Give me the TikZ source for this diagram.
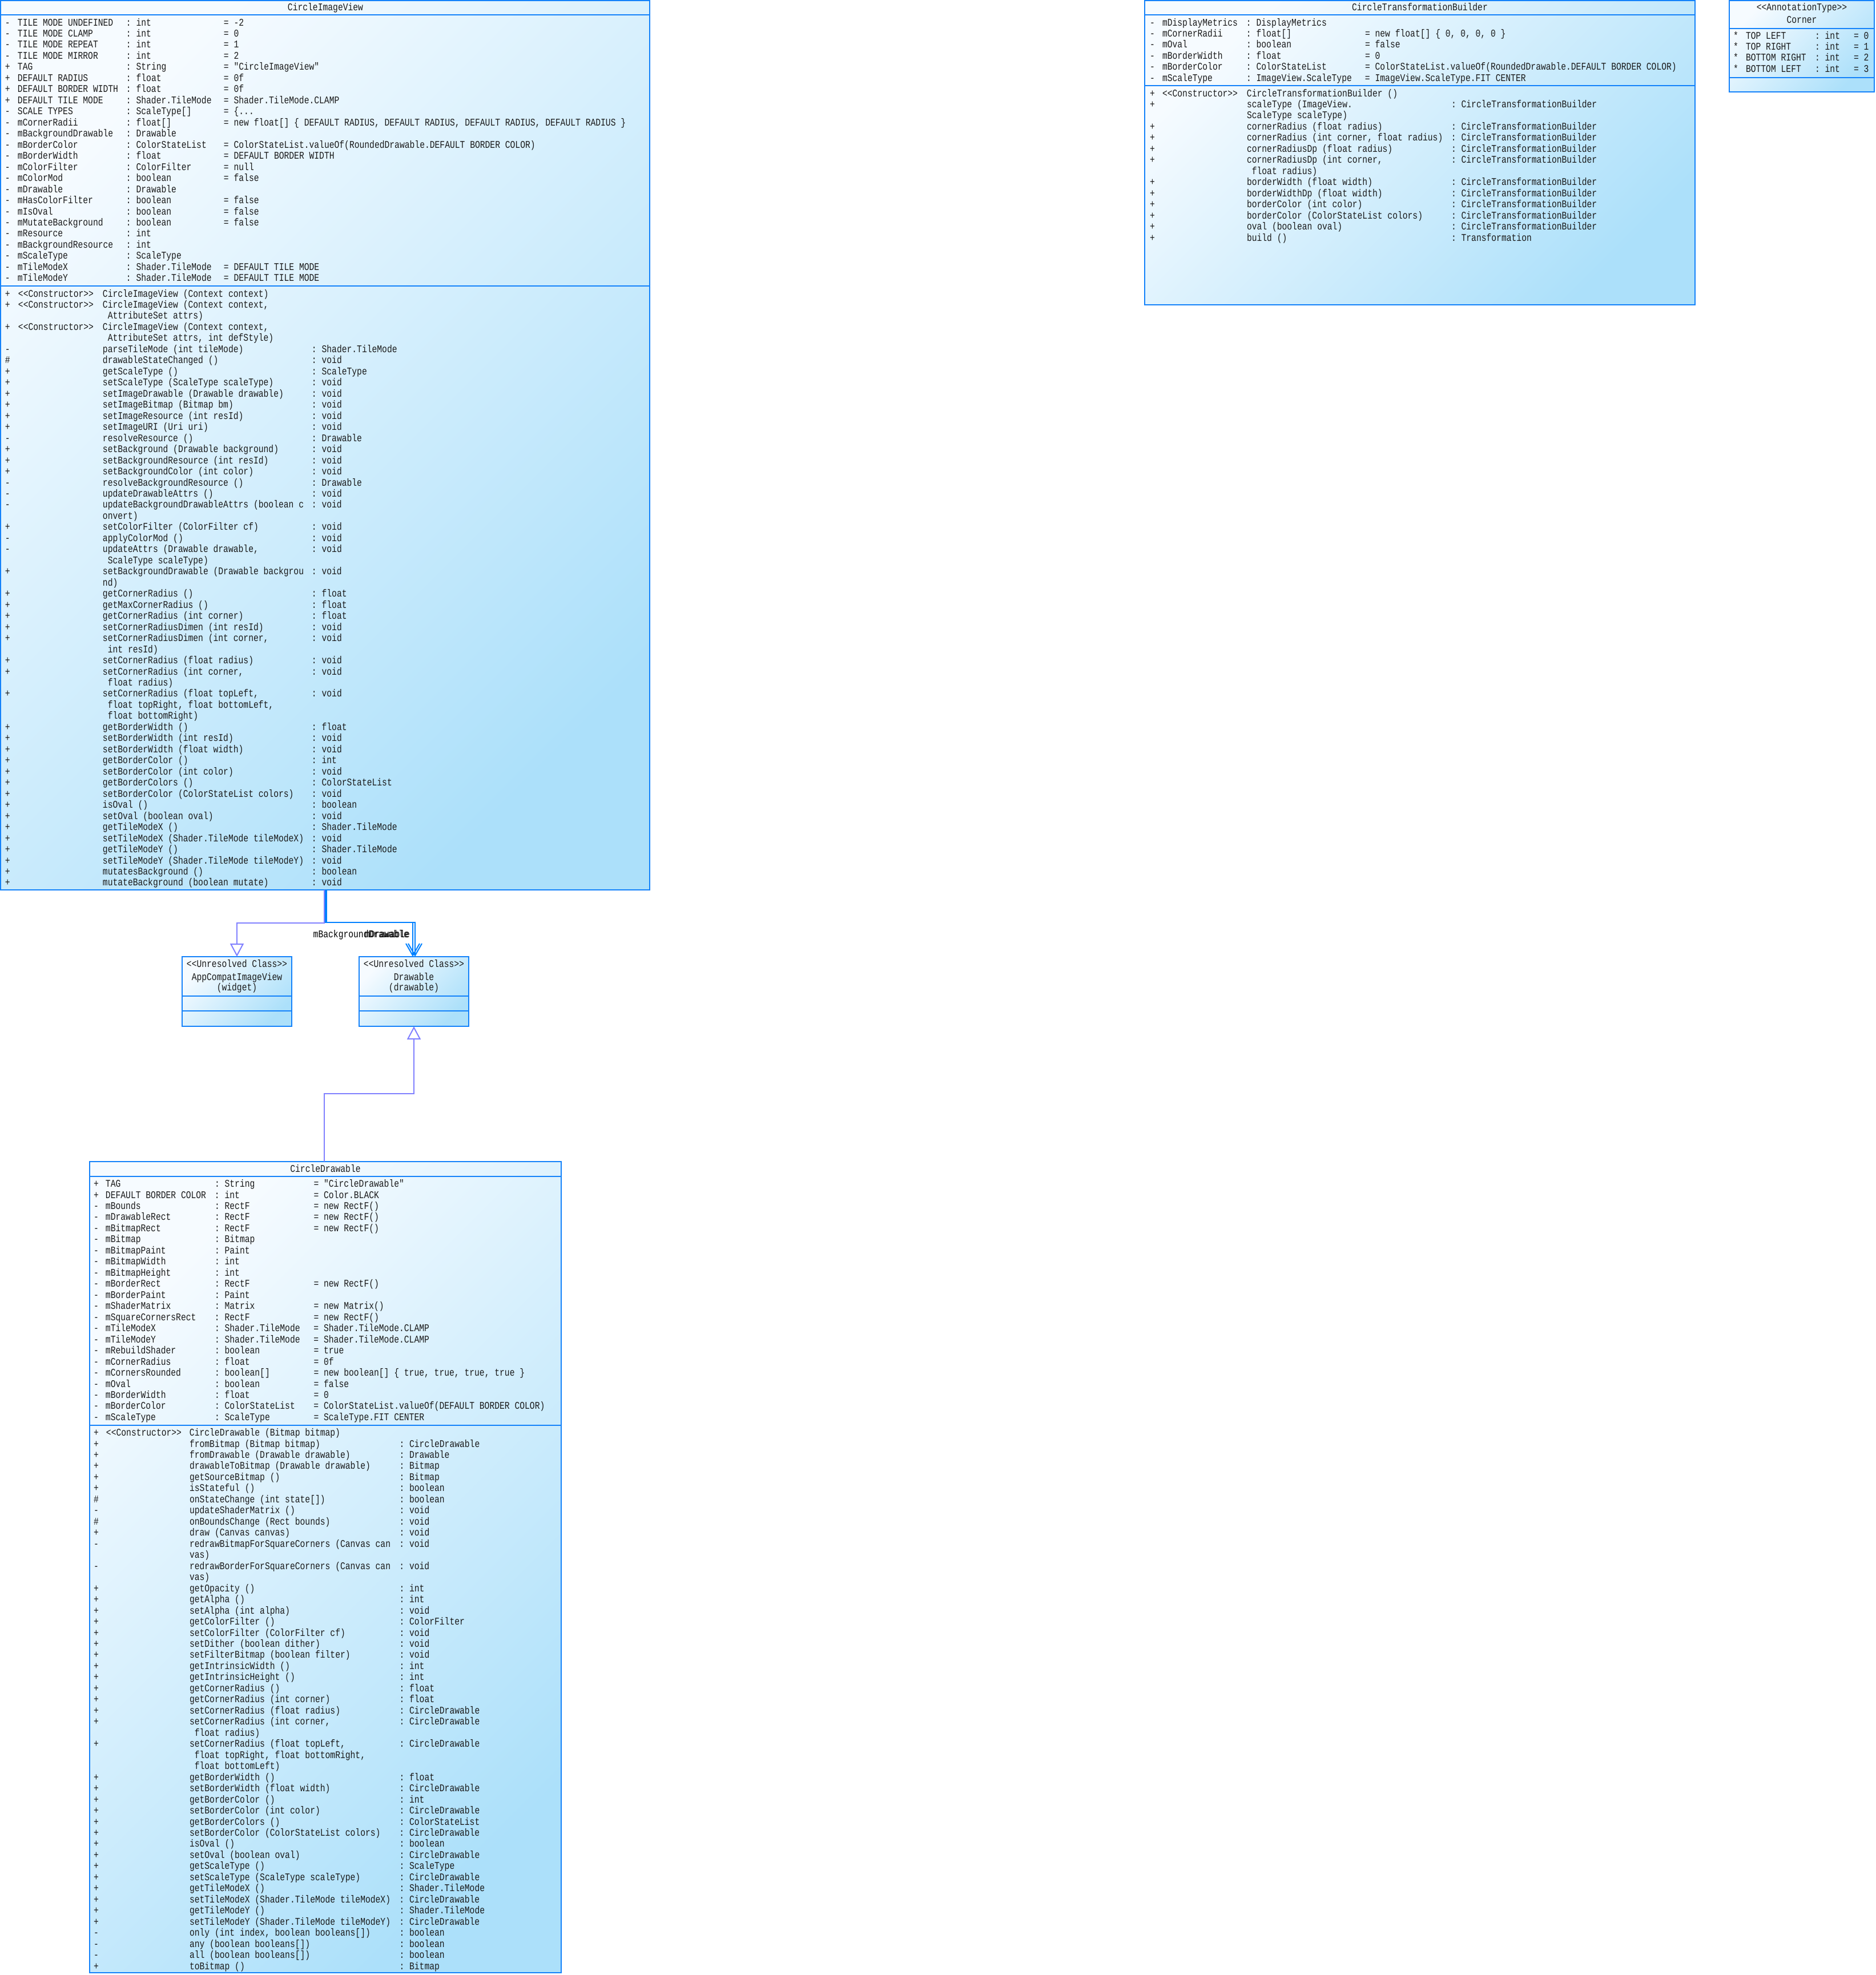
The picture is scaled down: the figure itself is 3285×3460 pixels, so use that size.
\documentclass[tikz,border=0pt]{standalone}
\usepackage{fontspec}
\newfontfamily\umlfont{Liberation Mono}[FakeStretch=0.815]
\usetikzlibrary{arrows.meta}
\frenchspacing
\definecolor{boxblue}{RGB}{20,130,250}
\definecolor{gradA}{RGB}{246,251,255}
\definecolor{gradB}{RGB}{172,224,250}
\definecolor{txtcol}{RGB}{25,25,25}
\definecolor{inhcol}{RGB}{128,128,255}
\definecolor{asccol}{RGB}{0,128,255}
\newlength\cA \newlength\cB \newlength\cC
\newcommand\cols[3]{\setlength\cA{#1pt}\setlength\cB{#2pt}\setlength\cC{#3pt}}
\newcommand\RW[4]{\hbox{\strut\makebox[\cA][l]{#1}\makebox[\cB][l]{#2}\makebox[\cC][l]{#3}#4}}
\newcommand\st[1]{<\kern0pt<#1>\kern0pt>}
\tikzset{
  umlbox/.style={draw=boxblue, line width=2pt, top color=gradA, bottom color=gradB,
    shading angle=45, inner sep=0pt, outer sep=0pt, anchor=north west},
  sepline/.style={draw=boxblue, line width=2.5pt},
  umlfnt/.style={font=\umlfont\fontsize{18pt}{19.47pt}\selectfont},
  txt/.style={umlfnt, inner sep=0pt, outer sep=0pt, text=txtcol, anchor=north west},
  ttl/.style={umlfnt, inner sep=0pt, outer sep=0pt, text=txtcol, anchor=base},
  lbl/.style={umlfnt, inner sep=0pt, outer sep=0pt, text=black, anchor=base east},
  inh/.style={draw=inhcol, line width=2pt, -{Triangle[open,length=23pt,width=24pt]}},
  asc/.style={draw=asccol, line width=2pt, -{Straight Barb[length=21pt,width=24pt]}},
}
\begin{document}
\begin{tikzpicture}[x=1pt,y=-1pt]
\useasboundingbox (0,0) rectangle (3285,3460);

% ---------------- CircleImageView ----------------
\node[umlbox, minimum width=1137pt, minimum height=1558pt] (civ) at (1,1) {};
\draw[sepline] ([yshift=-25pt]civ.north west) -- ([yshift=-25pt]civ.north east);
\draw[sepline] ([yshift=-500pt]civ.north west) -- ([yshift=-500pt]civ.north east);
\node[ttl] (civT) at (570,19) {CircleImageView};
\node[txt] (civF) at (9,31.4) {\vbox{\cols{22}{190}{171}
\RW{-}{TILE MODE UNDEFINED}{: int}{= -2}
\RW{-}{TILE MODE CLAMP}{: int}{= 0}
\RW{-}{TILE MODE REPEAT}{: int}{= 1}
\RW{-}{TILE MODE MIRROR}{: int}{= 2}
\RW{+}{TAG}{: String}{= "CircleImageView"}
\RW{+}{DEFAULT RADIUS}{: float}{= 0f}
\RW{+}{DEFAULT BORDER WIDTH}{: float}{= 0f}
\RW{+}{DEFAULT TILE MODE}{: Shader.TileMode}{= Shader.TileMode.CLAMP}
\RW{-}{SCALE TYPES}{: ScaleType[]}{= \{...}
\RW{-}{mCornerRadii}{: float[]}{= new float[] \{ DEFAULT RADIUS, DEFAULT RADIUS, DEFAULT RADIUS, DEFAULT RADIUS \}}
\RW{-}{mBackgroundDrawable}{: Drawable}{}
\RW{-}{mBorderColor}{: ColorStateList}{= ColorStateList.valueOf(RoundedDrawable.DEFAULT BORDER COLOR)}
\RW{-}{mBorderWidth}{: float}{= DEFAULT BORDER WIDTH}
\RW{-}{mColorFilter}{: ColorFilter}{= null}
\RW{-}{mColorMod}{: boolean}{= false}
\RW{-}{mDrawable}{: Drawable}{}
\RW{-}{mHasColorFilter}{: boolean}{= false}
\RW{-}{mIsOval}{: boolean}{= false}
\RW{-}{mMutateBackground}{: boolean}{= false}
\RW{-}{mResource}{: int}{}
\RW{-}{mBackgroundResource}{: int}{}
\RW{-}{mScaleType}{: ScaleType}{}
\RW{-}{mTileModeX}{: Shader.TileMode}{= DEFAULT TILE MODE}
\RW{-}{mTileModeY}{: Shader.TileMode}{= DEFAULT TILE MODE}
}};
\node[txt] (civM) at (9,506.4) {\vbox{\cols{23}{148}{366}
\RW{+}{\st{Constructor}}{CircleImageView (Context context)}{}
\RW{+}{\st{Constructor}}{CircleImageView (Context context,}{}
\RW{}{}{\ AttributeSet attrs)}{}
\RW{+}{\st{Constructor}}{CircleImageView (Context context,}{}
\RW{}{}{\ AttributeSet attrs, int defStyle)}{}
\RW{-}{}{parseTileMode (int tileMode)}{: Shader.TileMode}
\RW{\#}{}{drawableStateChanged ()}{: void}
\RW{+}{}{getScaleType ()}{: ScaleType}
\RW{+}{}{setScaleType (ScaleType scaleType)}{: void}
\RW{+}{}{setImageDrawable (Drawable drawable)}{: void}
\RW{+}{}{setImageBitmap (Bitmap bm)}{: void}
\RW{+}{}{setImageResource (int resId)}{: void}
\RW{+}{}{setImageURI (Uri uri)}{: void}
\RW{-}{}{resolveResource ()}{: Drawable}
\RW{+}{}{setBackground (Drawable background)}{: void}
\RW{+}{}{setBackgroundResource (int resId)}{: void}
\RW{+}{}{setBackgroundColor (int color)}{: void}
\RW{-}{}{resolveBackgroundResource ()}{: Drawable}
\RW{-}{}{updateDrawableAttrs ()}{: void}
\RW{-}{}{updateBackgroundDrawableAttrs (boolean c}{: void}
\RW{}{}{onvert)}{}
\RW{+}{}{setColorFilter (ColorFilter cf)}{: void}
\RW{-}{}{applyColorMod ()}{: void}
\RW{-}{}{updateAttrs (Drawable drawable,}{: void}
\RW{}{}{\ ScaleType scaleType)}{}
\RW{+}{}{setBackgroundDrawable (Drawable backgrou}{: void}
\RW{}{}{nd)}{}
\RW{+}{}{getCornerRadius ()}{: float}
\RW{+}{}{getMaxCornerRadius ()}{: float}
\RW{+}{}{getCornerRadius (int corner)}{: float}
\RW{+}{}{setCornerRadiusDimen (int resId)}{: void}
\RW{+}{}{setCornerRadiusDimen (int corner,}{: void}
\RW{}{}{\ int resId)}{}
\RW{+}{}{setCornerRadius (float radius)}{: void}
\RW{+}{}{setCornerRadius (int corner,}{: void}
\RW{}{}{\ float radius)}{}
\RW{+}{}{setCornerRadius (float topLeft,}{: void}
\RW{}{}{\ float topRight, float bottomLeft,}{}
\RW{}{}{\ float bottomRight)}{}
\RW{+}{}{getBorderWidth ()}{: float}
\RW{+}{}{setBorderWidth (int resId)}{: void}
\RW{+}{}{setBorderWidth (float width)}{: void}
\RW{+}{}{getBorderColor ()}{: int}
\RW{+}{}{setBorderColor (int color)}{: void}
\RW{+}{}{getBorderColors ()}{: ColorStateList}
\RW{+}{}{setBorderColor (ColorStateList colors)}{: void}
\RW{+}{}{isOval ()}{: boolean}
\RW{+}{}{setOval (boolean oval)}{: void}
\RW{+}{}{getTileModeX ()}{: Shader.TileMode}
\RW{+}{}{setTileModeX (Shader.TileMode tileModeX)}{: void}
\RW{+}{}{getTileModeY ()}{: Shader.TileMode}
\RW{+}{}{setTileModeY (Shader.TileMode tileModeY)}{: void}
\RW{+}{}{mutatesBackground ()}{: boolean}
\RW{+}{}{mutateBackground (boolean mutate)}{: void}
}};

% ---------------- CircleTransformationBuilder ----------------
\node[umlbox, minimum width=964pt, minimum height=533pt] (ctb) at (2005,1) {};
\draw[sepline] ([yshift=-25pt]ctb.north west) -- ([yshift=-25pt]ctb.north east);
\draw[sepline] ([yshift=-149pt]ctb.north west) -- ([yshift=-149pt]ctb.north east);
\node[ttl] (ctbT) at (2487,19) {CircleTransformationBuilder};
\node[txt] (ctbF) at (2014,31.4) {\vbox{\cols{22}{147}{208}
\RW{-}{mDisplayMetrics}{: DisplayMetrics}{}
\RW{-}{mCornerRadii}{: float[]}{= new float[] \{ 0, 0, 0, 0 \}}
\RW{-}{mOval}{: boolean}{= false}
\RW{-}{mBorderWidth}{: float}{= 0}
\RW{-}{mBorderColor}{: ColorStateList}{= ColorStateList.valueOf(RoundedDrawable.DEFAULT BORDER COLOR)}
\RW{-}{mScaleType}{: ImageView.ScaleType}{= ImageView.ScaleType.FIT CENTER}
}};
\node[txt] (ctbM) at (2014,155.4) {\vbox{\cols{22}{148}{358}
\RW{+}{\st{Constructor}}{CircleTransformationBuilder ()}{}
\RW{+}{}{scaleType (ImageView.}{: CircleTransformationBuilder}
\RW{}{}{ScaleType scaleType)}{}
\RW{+}{}{cornerRadius (float radius)}{: CircleTransformationBuilder}
\RW{+}{}{cornerRadius (int corner, float radius)}{: CircleTransformationBuilder}
\RW{+}{}{cornerRadiusDp (float radius)}{: CircleTransformationBuilder}
\RW{+}{}{cornerRadiusDp (int corner,}{: CircleTransformationBuilder}
\RW{}{}{\ float radius)}{}
\RW{+}{}{borderWidth (float width)}{: CircleTransformationBuilder}
\RW{+}{}{borderWidthDp (float width)}{: CircleTransformationBuilder}
\RW{+}{}{borderColor (int color)}{: CircleTransformationBuilder}
\RW{+}{}{borderColor (ColorStateList colors)}{: CircleTransformationBuilder}
\RW{+}{}{oval (boolean oval)}{: CircleTransformationBuilder}
\RW{+}{}{build ()}{: Transformation}
}};

% ---------------- Corner ----------------
\node[umlbox, minimum width=254pt, minimum height=160pt] (cor) at (3029,1) {};
\draw[sepline] ([yshift=-49pt]cor.north west) -- ([yshift=-49pt]cor.north east);
\draw[sepline] ([yshift=-135pt]cor.north west) -- ([yshift=-135pt]cor.north east);
\node[ttl] (corS) at (3156,19) {\st{AnnotationType}};
\node[ttl] (corT) at (3156,41) {Corner};
\node[txt] (corF) at (3036,54.4) {\vbox{\cols{22}{121}{68}
\RW{*}{TOP LEFT}{: int}{= 0}
\RW{*}{TOP RIGHT}{: int}{= 1}
\RW{*}{BOTTOM RIGHT}{: int}{= 2}
\RW{*}{BOTTOM LEFT}{: int}{= 3}
}};

% ---------------- AppCompatImageView ----------------
\node[umlbox, minimum width=192pt, minimum height=122pt] (aciv) at (319,1676) {};
\draw[sepline] ([yshift=-69pt]aciv.north west) -- ([yshift=-69pt]aciv.north east);
\draw[sepline] ([yshift=-95pt]aciv.north west) -- ([yshift=-95pt]aciv.north east);
\node[ttl] (acivS) at (415,1694) {\st{Unresolved Class}};
\node[ttl] (acivT) at (415,1717) {AppCompatImageView};
\node[ttl] (acivP) at (415,1735) {(widget)};

% ---------------- Drawable ----------------
\node[umlbox, minimum width=192pt, minimum height=122pt] (drw) at (629,1676) {};
\draw[sepline] ([yshift=-69pt]drw.north west) -- ([yshift=-69pt]drw.north east);
\draw[sepline] ([yshift=-95pt]drw.north west) -- ([yshift=-95pt]drw.north east);
\node[ttl] (drwS) at (725,1694) {\st{Unresolved Class}};
\node[ttl] (drwT) at (725,1717) {Drawable};
\node[ttl] (drwP) at (725,1735) {(drawable)};

% ---------------- CircleDrawable ----------------
\node[umlbox, minimum width=826pt, minimum height=1421pt] (cd) at (157,2035) {};
\draw[sepline] ([yshift=-26pt]cd.north west) -- ([yshift=-26pt]cd.north east);
\draw[sepline] ([yshift=-462pt]cd.north west) -- ([yshift=-462pt]cd.north east);
\node[ttl] (cdT) at (570,2053) {CircleDrawable};
\node[txt] (cdF) at (164,2065.9) {\vbox{\cols{21}{191}{173.5}
\RW{+}{TAG}{: String}{= "CircleDrawable"}
\RW{+}{DEFAULT BORDER COLOR}{: int}{= Color.BLACK}
\RW{-}{mBounds}{: RectF}{= new RectF()}
\RW{-}{mDrawableRect}{: RectF}{= new RectF()}
\RW{-}{mBitmapRect}{: RectF}{= new RectF()}
\RW{-}{mBitmap}{: Bitmap}{}
\RW{-}{mBitmapPaint}{: Paint}{}
\RW{-}{mBitmapWidth}{: int}{}
\RW{-}{mBitmapHeight}{: int}{}
\RW{-}{mBorderRect}{: RectF}{= new RectF()}
\RW{-}{mBorderPaint}{: Paint}{}
\RW{-}{mShaderMatrix}{: Matrix}{= new Matrix()}
\RW{-}{mSquareCornersRect}{: RectF}{= new RectF()}
\RW{-}{mTileModeX}{: Shader.TileMode}{= Shader.TileMode.CLAMP}
\RW{-}{mTileModeY}{: Shader.TileMode}{= Shader.TileMode.CLAMP}
\RW{-}{mRebuildShader}{: boolean}{= true}
\RW{-}{mCornerRadius}{: float}{= 0f}
\RW{-}{mCornersRounded}{: boolean[]}{= new boolean[] \{ true, true, true, true \}}
\RW{-}{mOval}{: boolean}{= false}
\RW{-}{mBorderWidth}{: float}{= 0}
\RW{-}{mBorderColor}{: ColorStateList}{= ColorStateList.valueOf(DEFAULT BORDER COLOR)}
\RW{-}{mScaleType}{: ScaleType}{= ScaleType.FIT CENTER}
}};
\node[txt] (cdM) at (164,2501.9) {\vbox{\cols{22}{146}{367.5}
\RW{+}{\st{Constructor}}{CircleDrawable (Bitmap bitmap)}{}
\RW{+}{}{fromBitmap (Bitmap bitmap)}{: CircleDrawable}
\RW{+}{}{fromDrawable (Drawable drawable)}{: Drawable}
\RW{+}{}{drawableToBitmap (Drawable drawable)}{: Bitmap}
\RW{+}{}{getSourceBitmap ()}{: Bitmap}
\RW{+}{}{isStateful ()}{: boolean}
\RW{\#}{}{onStateChange (int state[])}{: boolean}
\RW{-}{}{updateShaderMatrix ()}{: void}
\RW{\#}{}{onBoundsChange (Rect bounds)}{: void}
\RW{+}{}{draw (Canvas canvas)}{: void}
\RW{-}{}{redrawBitmapForSquareCorners (Canvas can}{: void}
\RW{}{}{vas)}{}
\RW{-}{}{redrawBorderForSquareCorners (Canvas can}{: void}
\RW{}{}{vas)}{}
\RW{+}{}{getOpacity ()}{: int}
\RW{+}{}{getAlpha ()}{: int}
\RW{+}{}{setAlpha (int alpha)}{: void}
\RW{+}{}{getColorFilter ()}{: ColorFilter}
\RW{+}{}{setColorFilter (ColorFilter cf)}{: void}
\RW{+}{}{setDither (boolean dither)}{: void}
\RW{+}{}{setFilterBitmap (boolean filter)}{: void}
\RW{+}{}{getIntrinsicWidth ()}{: int}
\RW{+}{}{getIntrinsicHeight ()}{: int}
\RW{+}{}{getCornerRadius ()}{: float}
\RW{+}{}{getCornerRadius (int corner)}{: float}
\RW{+}{}{setCornerRadius (float radius)}{: CircleDrawable}
\RW{+}{}{setCornerRadius (int corner,}{: CircleDrawable}
\RW{}{}{\ float radius)}{}
\RW{+}{}{setCornerRadius (float topLeft,}{: CircleDrawable}
\RW{}{}{\ float topRight, float bottomRight,}{}
\RW{}{}{\ float bottomLeft)}{}
\RW{+}{}{getBorderWidth ()}{: float}
\RW{+}{}{setBorderWidth (float width)}{: CircleDrawable}
\RW{+}{}{getBorderColor ()}{: int}
\RW{+}{}{setBorderColor (int color)}{: CircleDrawable}
\RW{+}{}{getBorderColors ()}{: ColorStateList}
\RW{+}{}{setBorderColor (ColorStateList colors)}{: CircleDrawable}
\RW{+}{}{isOval ()}{: boolean}
\RW{+}{}{setOval (boolean oval)}{: CircleDrawable}
\RW{+}{}{getScaleType ()}{: ScaleType}
\RW{+}{}{setScaleType (ScaleType scaleType)}{: CircleDrawable}
\RW{+}{}{getTileModeX ()}{: Shader.TileMode}
\RW{+}{}{setTileModeX (Shader.TileMode tileModeX)}{: CircleDrawable}
\RW{+}{}{getTileModeY ()}{: Shader.TileMode}
\RW{+}{}{setTileModeY (Shader.TileMode tileModeY)}{: CircleDrawable}
\RW{-}{}{only (int index, boolean booleans[])}{: boolean}
\RW{-}{}{any (boolean booleans[])}{: boolean}
\RW{-}{}{all (boolean booleans[])}{: boolean}
\RW{+}{}{toBitmap ()}{: Bitmap}
}};

% ---------------- connectors ----------------
\draw[inh] ([xshift=-2pt]civ.south) -- ++(0,58) -| (aciv.north);
\draw[asc] (civ.south) -- ++(0,57) -| ([xshift=-2pt]drw.north);
\draw[asc] ([xshift=2pt]civ.south) -- ++(0,57) -| ([xshift=2pt]drw.north);
\node[lbl] (lblA) at (716,1642) {mBackgroundDrawable};
\node[lbl] (lblB) at (718,1642) {mDrawable};
\draw[inh] ([xshift=-2pt]cd.north) -- ++(0,-119) -| (drw.south);
\end{tikzpicture}
\end{document}
